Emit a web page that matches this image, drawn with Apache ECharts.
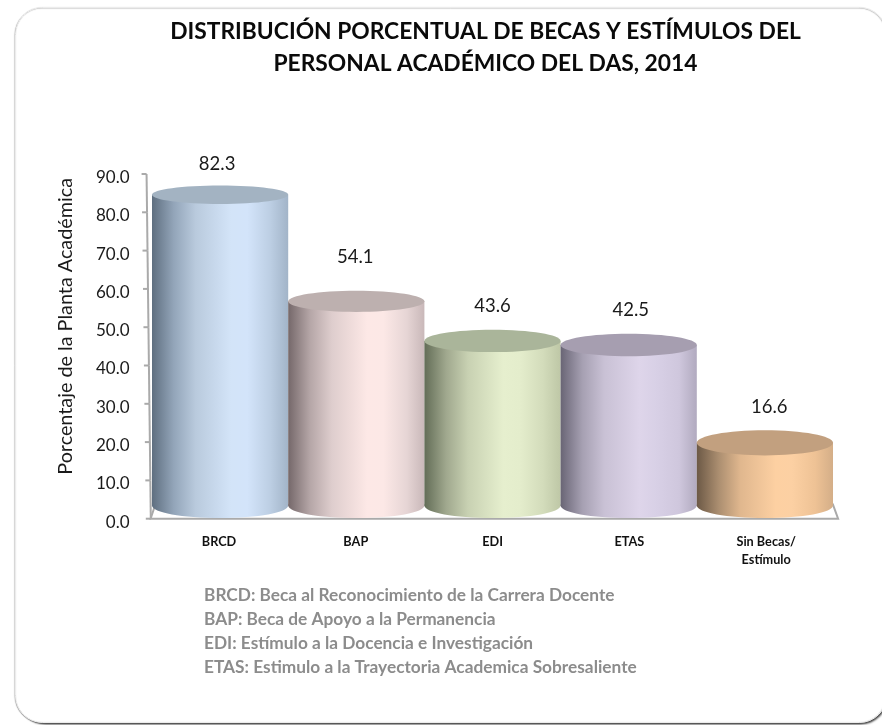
<!DOCTYPE html>
<html>
<head>
<meta charset="utf-8">
<style>html,body{margin:0;padding:0;background:#fff}#main{width:882px;height:725px}</style>
<script src="https://cdn.jsdelivr.net/npm/echarts@6/dist/echarts.min.js"></script>
</head>
<body>
<div id="main"></div>
<script>
var categories = ['BRCD', 'BAP', 'EDI', 'ETAS', 'Sin Becas/\nEstímulo'];
var values = [82.3, 54.1, 43.6, 42.5, 16.6];
var axisTicks = [0, 10, 20, 30, 40, 50, 60, 70, 80, 90];
var notes = [
  'BRCD: Beca al Reconocimiento de la Carrera Docente',
  'BAP: Beca de Apoyo a la Permanencia',
  'EDI: Estímulo a la Docencia e Investigación',
  'ETAS: Estimulo a la Trayectoria Academica Sobresaliente'
];
// body gradient (dark edge -> highlight -> right edge) and lid colour for each cylinder
var bodyColors = [
  ['#5f6f80', '#93a5b9', '#b9cadd', '#d3e4f8', '#d3e4fa', '#bccee3', '#a2b4c8'],
  ['#75686a', '#b5a6a7', '#decdcd', '#fde8e6', '#fce8e6', '#e6d5d5', '#c9b8b9'],
  ['#636d57', '#a0a88e', '#c8d1b2', '#e6efce', '#e4edcc', '#d3dcbb', '#bec7a6'],
  ['#696575', '#a6a0b2', '#c9c1d5', '#ded5ea', '#d8d0e6', '#cfc7dd', '#b1aabf'],
  ['#6c5946', '#ab8e70', '#e0b78e', '#fdd0a2', '#fcd0a3', '#eec295', '#d4ae88']
];
var lidColors = ['#a3b3c2', '#bdb0af', '#aab59a', '#a69eb0', '#c2a07f'];
// the value labels sit unevenly above the lids in the original
var labelLift = [31, 44, 35, 35, 36];
var labelDrift = [-3, -1, 0, 2, 4.4];

var font = 'Lato, "Open Sans", sans-serif';
var myChart = echarts.init(document.getElementById('main'));

function renderFrame(params, api) {
  var val = api.value(0);
  var cs = params.coordSys;
  var lean = function (v) { return cs.x + 0.2 - v * 0.047; };
  var p = api.coord([0, val]);
  var children = [{
    type: 'line',
    shape: { x1: lean(val) - 5, y1: p[1], x2: lean(val), y2: p[1] },
    style: { stroke: '#aaaaaa', lineWidth: 2 }
  }];
  if (val < 90) {
    var q = api.coord([0, val + 10]);
    children.push({
      type: 'line',
      shape: { x1: lean(val), y1: p[1], x2: lean(val + 10), y2: q[1] },
      style: { stroke: '#aaaaaa', lineWidth: 2 }
    });
  }
  if (val === 0) {
    var right = cs.x + cs.width;
    children.push({
      type: 'polyline',
      shape: { points: [[cs.x + 5, p[1] - 15], [cs.x, p[1]], [right + 3.5, p[1]], [right - 2, p[1] - 15]] },
      style: { stroke: '#aaaaaa', lineWidth: 2, fill: null }
    });
  }
  return { type: 'group', children: children };
}

function renderCylinder(params, api) {
  var i = params.dataIndex;
  var v = api.value(1);
  var top = api.coord([i, v]);
  var base = api.coord([i, 0]);
  var rx = api.size([1, 0])[0] / 2;
  var ryTop = 13.4 - v * 0.051;
  var ryBase = 12.6;
  var c = bodyColors[i];
  var fill = new echarts.graphic.LinearGradient(0, 0, 1, 0, [
    { offset: 0, color: c[0] },
    { offset: 0.16, color: c[1] },
    { offset: 0.32, color: c[2] },
    { offset: 0.58, color: c[3] },
    { offset: 0.7, color: c[4] },
    { offset: 0.87, color: c[5] },
    { offset: 1, color: c[6] }
  ]);
  return {
    type: 'group',
    children: [
      { type: 'ellipse', shape: { cx: base[0], cy: base[1], rx: rx, ry: ryBase }, style: { fill: fill } },
      { type: 'rect', shape: { x: base[0] - rx, y: top[1], width: rx * 2, height: base[1] - top[1] }, style: { fill: fill } },
      { type: 'ellipse', shape: { cx: top[0], cy: top[1], rx: rx, ry: ryTop }, style: { fill: lidColors[i] } },
      {
        type: 'text',
        style: {
          text: v.toFixed(1), x: top[0] + labelDrift[i], y: top[1] - labelLift[i],
          align: 'center', verticalAlign: 'middle',
          fill: '#1a1a1a', font: '18.5px ' + font
        }
      }
    ]
  };
}

var option = {
  animation: false,
  backgroundColor: '#ffffff',
  title: {
    text: 'DISTRIBUCIÓN PORCENTUAL DE BECAS Y ESTÍMULOS DEL\nPERSONAL ACADÉMICO DEL DAS, 2014',
    left: 480.5, top: 11, textAlign: 'center',
    textStyle: { fontFamily: font, fontSize: 22.8, fontWeight: 'bold', color: '#0a0a0a', lineHeight: 31.5 }
  },
  graphic: [
    {
      type: 'rect', z: -11, silent: true,
      shape: { x: 17, y: 9, width: 869, height: 714, r: 27 },
      style: { fill: '#ffffff', shadowBlur: 2, shadowOffsetX: 1.5, shadowOffsetY: 1.5, shadowColor: 'rgba(0,0,0,0.7)' }
    },
    {
      type: 'rect', z: -10, silent: true,
      shape: { x: 15.5, y: 7.5, width: 871, height: 715, r: 27 },
      style: { fill: '#ffffff', stroke: '#ececec', lineWidth: 1, shadowBlur: 1, shadowOffsetX: -0.5, shadowOffsetY: 0.5, shadowColor: 'rgba(0,0,0,0.3)' }
    },
    {
      type: 'text', left: 204, top: 584, silent: true,
      style: { text: notes.join('\n'), fill: '#8c8c8c', font: 'bold 17.3px ' + font, lineHeight: 23.7 }
    }
  ],
  grid: [
    { left: 150.6, top: 174, width: 684, height: 344.7 },
    { left: 152, top: 165.75, width: 681, height: 339.75 }
  ],
  xAxis: [
    {
      type: 'category', gridIndex: 0, data: categories,
      axisLine: { show: false }, axisTick: { show: false },
      axisLabel: { interval: 0, margin: 14, color: '#111111', fontFamily: font, fontSize: 12.7, fontWeight: 'bold', lineHeight: 18 }
    },
    { type: 'category', gridIndex: 1, data: categories, show: false }
  ],
  yAxis: [
    {
      type: 'value', gridIndex: 0, min: 0, max: 90, interval: 10,
      name: 'Porcentaje de la Planta Académica', nameLocation: 'middle', nameGap: 75,
      nameTextStyle: { fontFamily: font, fontSize: 19.8, color: '#1a1a1a', padding: [0, 0, 0, 40] },
      axisLine: { show: false }, axisTick: { show: false }, splitLine: { show: false },
      axisLabel: {
        margin: 21, verticalAlign: 'top', lineHeight: 7, color: '#1a1a1a', fontFamily: font, fontSize: 17,
        formatter: function (v) { return v.toFixed(1); }
      }
    },
    { type: 'value', gridIndex: 1, min: 0, max: 90, show: false, splitLine: { show: false } }
  ],
  series: [
    {
      type: 'custom', name: 'marco', xAxisIndex: 0, yAxisIndex: 0, silent: true, z: 1, clip: false,
      data: axisTicks.map(function (t) { return [t]; }),
      encode: { y: 0 },
      renderItem: renderFrame
    },
    {
      type: 'custom', name: 'Porcentaje', xAxisIndex: 1, yAxisIndex: 1, z: 2, clip: false,
      data: values.map(function (v, i) { return [i, v]; }),
      encode: { x: 0, y: 1 },
      renderItem: renderCylinder
    }
  ]
};

myChart.setOption(option);
</script>
</body>
</html>
